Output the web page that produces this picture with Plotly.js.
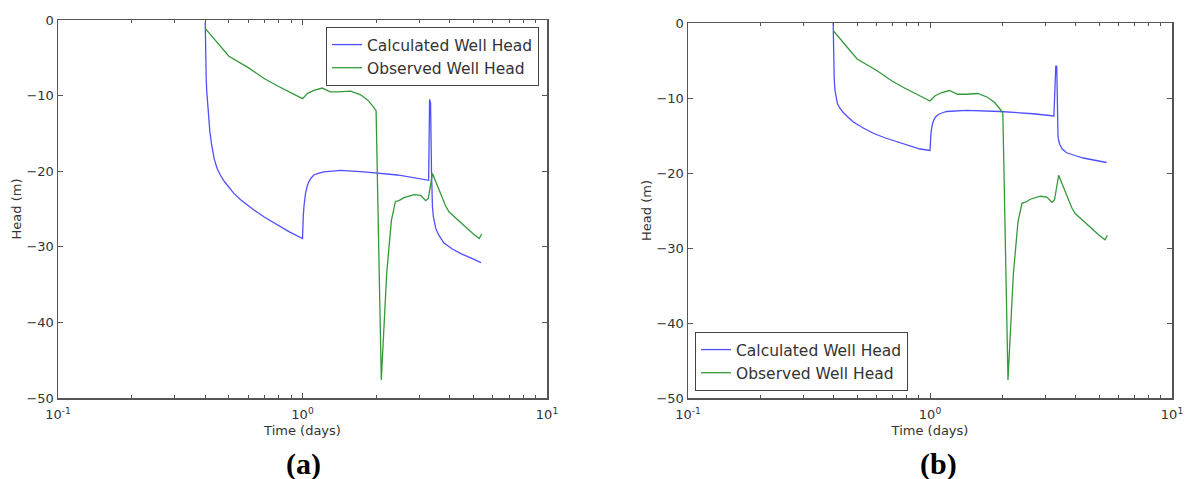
<!DOCTYPE html>
<html>
<head>
<meta charset="utf-8">
<script src="https://cdn.plot.ly/plotly-3.0.1.min.js"></script>
<style>html,body{margin:0;padding:0;background:#fff;}#chart{width:1185px;height:479px;}</style>
</head>
<body>
<div id="chart"></div>
<script>
// Observed well head (same in both panels)
const obsT = [0.40, 0.45, 0.50, 0.60, 0.694, 0.788, 0.90, 1.0, 1.05, 1.113, 1.204, 1.30, 1.40, 1.573, 1.728, 1.85, 1.95, 2.0, 2.10, 2.21, 2.31, 2.40, 2.48, 2.60, 2.86, 3.04, 3.19, 3.27, 3.40, 3.51, 3.68, 3.85, 3.98, 4.17, 4.44, 4.73, 5.0, 5.28, 5.41];
const obsH = [-1.1, -3.0, -4.8, -6.3, -7.7, -8.7, -9.6, -10.4, -9.7, -9.3, -9.0, -9.5, -9.5, -9.4, -9.9, -10.6, -11.5, -12.0, -47.6, -33.5, -26.5, -24.0, -23.9, -23.5, -23.1, -23.2, -23.9, -23.6, -20.3, -21.4, -23.1, -24.6, -25.4, -26.0, -26.9, -27.6, -28.3, -28.9, -28.3];

// Calculated well head, panel (a)
const calcAT = [0.400, 0.4005, 0.401, 0.402, 0.404, 0.406, 0.409, 0.413, 0.418, 0.425, 0.435, 0.447, 0.461, 0.48, 0.50, 0.523, 0.56, 0.60, 0.631, 0.70, 0.787, 0.88, 1.0, 1.003, 1.008, 1.015, 1.029, 1.045, 1.061, 1.085, 1.113, 1.16, 1.223, 1.431, 1.783, 2.444, 3.28, 3.31, 3.34, 3.37, 3.38, 3.40, 3.43, 3.47, 3.51, 3.60, 3.79, 4.1, 4.44, 4.9, 5.37];
const calcAH = [-0.3, -2.0, -4.0, -6.0, -8.0, -9.5, -11.0, -13.0, -14.8, -16.5, -18.3, -19.6, -20.5, -21.4, -22.1, -22.9, -23.8, -24.6, -25.1, -26.1, -27.1, -28.0, -28.9, -27.0, -25.8, -24.5, -22.9, -22.0, -21.4, -20.9, -20.5, -20.3, -20.1, -19.9, -20.1, -20.5, -21.2, -10.5, -11.0, -20.0, -22.5, -24.7, -26.0, -27.0, -27.6, -28.4, -29.5, -30.3, -30.9, -31.5, -32.1];

// Calculated well head, panel (b)
const calcBT = [0.398, 0.399, 0.400, 0.402, 0.405, 0.409, 0.415, 0.425, 0.44, 0.46, 0.482, 0.53, 0.583, 0.65, 0.728, 0.82, 0.909, 1.0, 1.003, 1.01, 1.02, 1.032, 1.05, 1.082, 1.12, 1.172, 1.418, 1.946, 2.67, 3.25, 3.29, 3.31, 3.34, 3.36, 3.38, 3.41, 3.44, 3.52, 3.67, 4.0, 4.30, 4.8, 5.37];
const calcBH = [0.0, -3.0, -5.5, -7.5, -9.0, -10.0, -10.8, -11.4, -12.0, -12.6, -13.2, -14.0, -14.7, -15.3, -15.8, -16.4, -16.8, -17.0, -15.8, -14.6, -13.7, -13.1, -12.6, -12.2, -12.0, -11.8, -11.65, -11.8, -12.1, -12.4, -8.0, -5.7, -5.8, -10.0, -15.1, -15.8, -16.2, -16.8, -17.3, -17.7, -18.0, -18.3, -18.6];

const xTickVals = [0.1, 1, 10];
const xTickText = ['10<sup>-1</sup>', '10<sup>0</sup>', '10<sup>1</sup>'];
const xMinorVals = [0.2,0.3,0.4,0.5,0.6,0.7,0.8,0.9,2,3,4,5,6,7,8,9];
const yTickVals = [0, -10, -20, -30, -40, -50];
const seriesNames = ['Calculated Well Head', 'Observed Well Head'];
const panelLabels = ['(a)', '(b)'];

const BLUE = '#4f4fff', GREEN = '#34993a';
const FONT = 'DejaVu Sans, sans-serif';

const traces = [
  {x: calcAT, y: calcAH, xaxis: 'x', yaxis: 'y', name: seriesNames[0], mode: 'lines', line: {color: BLUE, width: 1.3}, legend: 'legend'},
  {x: obsT, y: obsH, xaxis: 'x', yaxis: 'y', name: seriesNames[1], mode: 'lines', line: {color: GREEN, width: 1.3}, legend: 'legend'},
  {x: calcBT, y: calcBH, xaxis: 'x2', yaxis: 'y2', name: seriesNames[0], mode: 'lines', line: {color: BLUE, width: 1.3}, legend: 'legend2'},
  {x: obsT, y: obsH, xaxis: 'x2', yaxis: 'y2', name: seriesNames[1], mode: 'lines', line: {color: GREEN, width: 1.3}, legend: 'legend2'}
];

function xAx(domain, anchor) {
  return {
    type: 'log', range: [-1, 1], domain: domain, anchor: anchor,
    tickvals: xTickVals, ticktext: xTickText,
    ticks: 'inside', ticklen: 5, tickcolor: '#555', tickwidth: 1,
    minor: {tickvals: xMinorVals, ticks: 'inside', ticklen: 3, tickcolor: '#555', tickwidth: 1, showgrid: false},
    showline: true, linecolor: '#555', linewidth: 1.5, mirror: 'allticks',
    showgrid: false, zeroline: false,
    ticklabelstandoff: 4,
    tickfont: {family: FONT, size: 13, color: '#333'},
    title: {text: 'Time (days)', font: {family: FONT, size: 13, color: '#333'}, standoff: 5},
    automargin: false
  };
}
function yAx(domain, anchor) {
  return {
    range: [-50, 0], domain: domain, anchor: anchor,
    tickvals: yTickVals,
    ticks: 'inside', ticklen: 5, tickcolor: '#555', tickwidth: 1,
    showline: true, linecolor: '#555', linewidth: 1.5, mirror: 'allticks',
    showgrid: false, zeroline: false,
    tickfont: {family: FONT, size: 13, color: '#333'},
    title: {text: 'Head (m)', font: {family: FONT, size: 13, color: '#333'}},
    automargin: false
  };
}

const W = 1185, H = 479;
const layout = {
  width: W, height: H,
  margin: {l: 0, r: 0, t: 0, b: 0},
  paper_bgcolor: '#fff', plot_bgcolor: '#fff',
  showlegend: true,
  xaxis: xAx([58/W, 547/W], 'y'),
  yaxis: yAx([1 - 398/H, 1 - 20/H], 'x'),
  xaxis2: xAx([688/W, 1172/W], 'y2'),
  yaxis2: yAx([1 - 398/H, 1 - 23/H], 'x2'),
  legend: {x: 539/W, y: 1 - 27/H, xanchor: 'right', yanchor: 'top', bgcolor: '#fff', bordercolor: '#444', borderwidth: 1,
           font: {family: FONT, size: 15.5, color: '#333'}, tracegroupgap: 0},
  legend2: {x: 695/W, y: 1 - 391/H, xanchor: 'left', yanchor: 'bottom', bgcolor: '#fff', bordercolor: '#444', borderwidth: 1,
            font: {family: FONT, size: 15.5, color: '#333'}, tracegroupgap: 0},
  annotations: [
    {text: '<b>' + panelLabels[0] + '</b>', xref: 'paper', yref: 'paper', x: 284/W, y: 0, yanchor: 'bottom', yshift: -4, showarrow: false,
     font: {family: 'Liberation Serif, Times New Roman, serif', size: 30, color: '#000'}},
    {text: '<b>' + panelLabels[1] + '</b>', xref: 'paper', yref: 'paper', x: 959/W, y: 0, yanchor: 'bottom', yshift: -4, showarrow: false,
     font: {family: 'Liberation Serif, Times New Roman, serif', size: 30, color: '#000'}}
  ]
};

Plotly.newPlot('chart', traces, layout, {displayModeBar: false, staticPlot: true});
</script>
</body>
</html>
